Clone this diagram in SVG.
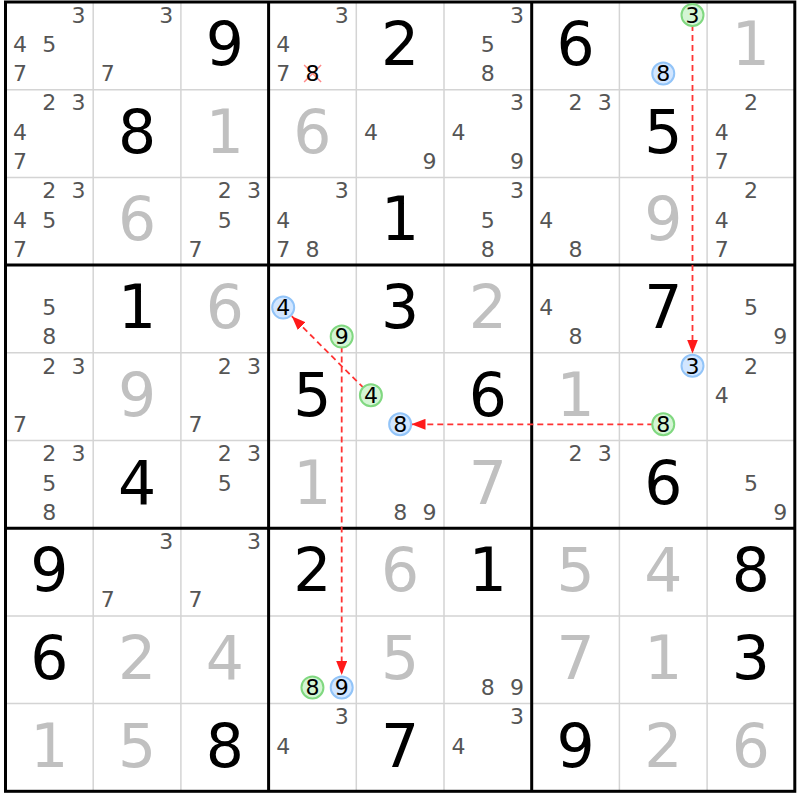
<svg xmlns="http://www.w3.org/2000/svg" width="800" height="800" viewBox="0 0 800 800">
<defs>
<style>
text{font-family:"DejaVu Sans",Verdana,sans-serif;text-anchor:middle}
.g{font-size:60px;fill:#000}
.s{font-size:60px;fill:#c0c0c0}
.c{font-size:22px;fill:#555}
.k{font-size:22px;fill:#000}
.thin{stroke:#d4d4d4;stroke-width:1.5}
.thick{stroke:#000;stroke-width:3;fill:none}
.bl{fill:#d2e6ff;stroke:#92c4f8;stroke-width:2}
.gr{fill:#d4f5d4;stroke:#80d880;stroke-width:2}
.x{stroke:#ff8a8a;stroke-width:1.5}
.link{stroke:#ff3333;stroke-width:1.8;stroke-dasharray:6 4;fill:none;marker-end:url(#ah)}
</style>
<marker id="ah" markerUnits="userSpaceOnUse" markerWidth="14" markerHeight="11" refX="14" refY="5.5" orient="auto"><path d="M0,0 L14,5.5 L0,11 z" fill="#ff1a1a"/></marker>
</defs>
<rect width="800" height="800" fill="#fff"/>
<g id="grid">
<path class="thin" d="M93.2,2V791.3M180.9,2V791.3M356.3,2V791.3M444,2V791.3M619.4,2V791.3M707.1,2V791.3M5.5,89.7H794.8M5.5,177.4H794.8M5.5,352.8H794.8M5.5,440.5H794.8M5.5,615.9H794.8M5.5,703.6H794.8"/>
<path class="thick" d="M268.6,2V791.3M531.7,2V791.3M5.5,265.1H794.8M5.5,528.2H794.8"/>
<rect class="thick" x="5.5" y="2" width="789.3" height="789.3"/>
</g>
<g id="connectors">
<path class="link" d="M692.5,15L692.5,353.5"/>
<path class="link" d="M663.3,424.3L411.5,424.3"/>
<path class="link" d="M370.9,395.3L291.8,316.2"/>
<path class="link" d="M341.7,336.6L341.7,675"/>
</g>
<g id="cells">
<!-- row 0 -->
<g id="r0c0" transform="translate(5.5,2)"><text class="c" x="73.1" y="20.8">3</text><text class="c" x="14.6" y="50.3">4</text><text class="c" x="43.85" y="50.3">5</text><text class="c" x="14.6" y="79.3">7</text></g>
<g id="r0c1" transform="translate(93.2,2)"><text class="c" x="73.1" y="20.8">3</text><text class="c" x="14.6" y="79.3">7</text></g>
<g id="r0c2" transform="translate(180.9,2)"><text class="g" x="43.85" y="63">9</text></g>
<g id="r0c3" transform="translate(268.6,2)"><text class="c" x="73.1" y="20.8">3</text><text class="c" x="14.6" y="50.3">4</text><text class="c" x="14.6" y="79.3">7</text><path class="x" d="M35.5,63L52.5,80M52.5,63L35.5,80"/><text class="k" x="43.85" y="79.3">8</text></g>
<g id="r0c4" transform="translate(356.3,2)"><text class="g" x="43.85" y="63">2</text></g>
<g id="r0c5" transform="translate(444,2)"><text class="c" x="73.1" y="20.8">3</text><text class="c" x="43.85" y="50.3">5</text><text class="c" x="43.85" y="79.3">8</text></g>
<g id="r0c6" transform="translate(531.7,2)"><text class="g" x="43.85" y="63">6</text></g>
<g id="r0c7" transform="translate(619.4,2)"><circle class="gr" cx="73.1" cy="13" r="11"/><text class="k" x="73.1" y="20.8">3</text><circle class="bl" cx="43.85" cy="71.5" r="11"/><text class="k" x="43.85" y="79.3">8</text></g>
<g id="r0c8" transform="translate(707.1,2)"><text class="s" x="43.85" y="63">1</text></g>
<!-- row 1 -->
<g id="r1c0" transform="translate(5.5,89.7)"><text class="c" x="43.85" y="20.8">2</text><text class="c" x="73.1" y="20.8">3</text><text class="c" x="14.6" y="50.3">4</text><text class="c" x="14.6" y="79.3">7</text></g>
<g id="r1c1" transform="translate(93.2,89.7)"><text class="g" x="43.85" y="63">8</text></g>
<g id="r1c2" transform="translate(180.9,89.7)"><text class="s" x="43.85" y="63">1</text></g>
<g id="r1c3" transform="translate(268.6,89.7)"><text class="s" x="43.85" y="63">6</text></g>
<g id="r1c4" transform="translate(356.3,89.7)"><text class="c" x="14.6" y="50.3">4</text><text class="c" x="73.1" y="79.3">9</text></g>
<g id="r1c5" transform="translate(444,89.7)"><text class="c" x="73.1" y="20.8">3</text><text class="c" x="14.6" y="50.3">4</text><text class="c" x="73.1" y="79.3">9</text></g>
<g id="r1c6" transform="translate(531.7,89.7)"><text class="c" x="43.85" y="20.8">2</text><text class="c" x="73.1" y="20.8">3</text></g>
<g id="r1c7" transform="translate(619.4,89.7)"><text class="g" x="43.85" y="63">5</text></g>
<g id="r1c8" transform="translate(707.1,89.7)"><text class="c" x="43.85" y="20.8">2</text><text class="c" x="14.6" y="50.3">4</text><text class="c" x="14.6" y="79.3">7</text></g>
<!-- row 2 -->
<g id="r2c0" transform="translate(5.5,177.4)"><text class="c" x="43.85" y="20.8">2</text><text class="c" x="73.1" y="20.8">3</text><text class="c" x="14.6" y="50.3">4</text><text class="c" x="43.85" y="50.3">5</text><text class="c" x="14.6" y="79.3">7</text></g>
<g id="r2c1" transform="translate(93.2,177.4)"><text class="s" x="43.85" y="63">6</text></g>
<g id="r2c2" transform="translate(180.9,177.4)"><text class="c" x="43.85" y="20.8">2</text><text class="c" x="73.1" y="20.8">3</text><text class="c" x="43.85" y="50.3">5</text><text class="c" x="14.6" y="79.3">7</text></g>
<g id="r2c3" transform="translate(268.6,177.4)"><text class="c" x="73.1" y="20.8">3</text><text class="c" x="14.6" y="50.3">4</text><text class="c" x="14.6" y="79.3">7</text><text class="c" x="43.85" y="79.3">8</text></g>
<g id="r2c4" transform="translate(356.3,177.4)"><text class="g" x="43.85" y="63">1</text></g>
<g id="r2c5" transform="translate(444,177.4)"><text class="c" x="73.1" y="20.8">3</text><text class="c" x="43.85" y="50.3">5</text><text class="c" x="43.85" y="79.3">8</text></g>
<g id="r2c6" transform="translate(531.7,177.4)"><text class="c" x="14.6" y="50.3">4</text><text class="c" x="43.85" y="79.3">8</text></g>
<g id="r2c7" transform="translate(619.4,177.4)"><text class="s" x="43.85" y="63">9</text></g>
<g id="r2c8" transform="translate(707.1,177.4)"><text class="c" x="43.85" y="20.8">2</text><text class="c" x="14.6" y="50.3">4</text><text class="c" x="14.6" y="79.3">7</text></g>
<!-- row 3 -->
<g id="r3c0" transform="translate(5.5,265.1)"><text class="c" x="43.85" y="50.3">5</text><text class="c" x="43.85" y="79.3">8</text></g>
<g id="r3c1" transform="translate(93.2,265.1)"><text class="g" x="43.85" y="63">1</text></g>
<g id="r3c2" transform="translate(180.9,265.1)"><text class="s" x="43.85" y="63">6</text></g>
<g id="r3c3" transform="translate(268.6,265.1)"><circle class="bl" cx="14.6" cy="42.5" r="11"/><text class="k" x="14.6" y="50.3">4</text><circle class="gr" cx="73.1" cy="71.5" r="11"/><text class="k" x="73.1" y="79.3">9</text></g>
<g id="r3c4" transform="translate(356.3,265.1)"><text class="g" x="43.85" y="63">3</text></g>
<g id="r3c5" transform="translate(444,265.1)"><text class="s" x="43.85" y="63">2</text></g>
<g id="r3c6" transform="translate(531.7,265.1)"><text class="c" x="14.6" y="50.3">4</text><text class="c" x="43.85" y="79.3">8</text></g>
<g id="r3c7" transform="translate(619.4,265.1)"><text class="g" x="43.85" y="63">7</text></g>
<g id="r3c8" transform="translate(707.1,265.1)"><text class="c" x="43.85" y="50.3">5</text><text class="c" x="73.1" y="79.3">9</text></g>
<!-- row 4 -->
<g id="r4c0" transform="translate(5.5,352.8)"><text class="c" x="43.85" y="20.8">2</text><text class="c" x="73.1" y="20.8">3</text><text class="c" x="14.6" y="79.3">7</text></g>
<g id="r4c1" transform="translate(93.2,352.8)"><text class="s" x="43.85" y="63">9</text></g>
<g id="r4c2" transform="translate(180.9,352.8)"><text class="c" x="43.85" y="20.8">2</text><text class="c" x="73.1" y="20.8">3</text><text class="c" x="14.6" y="79.3">7</text></g>
<g id="r4c3" transform="translate(268.6,352.8)"><text class="g" x="43.85" y="63">5</text></g>
<g id="r4c4" transform="translate(356.3,352.8)"><circle class="gr" cx="14.6" cy="42.5" r="11"/><text class="k" x="14.6" y="50.3">4</text><circle class="bl" cx="43.85" cy="71.5" r="11"/><text class="k" x="43.85" y="79.3">8</text></g>
<g id="r4c5" transform="translate(444,352.8)"><text class="g" x="43.85" y="63">6</text></g>
<g id="r4c6" transform="translate(531.7,352.8)"><text class="s" x="43.85" y="63">1</text></g>
<g id="r4c7" transform="translate(619.4,352.8)"><circle class="bl" cx="73.1" cy="13" r="11"/><text class="k" x="73.1" y="20.8">3</text><circle class="gr" cx="43.85" cy="71.5" r="11"/><text class="k" x="43.85" y="79.3">8</text></g>
<g id="r4c8" transform="translate(707.1,352.8)"><text class="c" x="43.85" y="20.8">2</text><text class="c" x="14.6" y="50.3">4</text></g>
<!-- row 5 -->
<g id="r5c0" transform="translate(5.5,440.5)"><text class="c" x="43.85" y="20.8">2</text><text class="c" x="73.1" y="20.8">3</text><text class="c" x="43.85" y="50.3">5</text><text class="c" x="43.85" y="79.3">8</text></g>
<g id="r5c1" transform="translate(93.2,440.5)"><text class="g" x="43.85" y="63">4</text></g>
<g id="r5c2" transform="translate(180.9,440.5)"><text class="c" x="43.85" y="20.8">2</text><text class="c" x="73.1" y="20.8">3</text><text class="c" x="43.85" y="50.3">5</text></g>
<g id="r5c3" transform="translate(268.6,440.5)"><text class="s" x="43.85" y="63">1</text></g>
<g id="r5c4" transform="translate(356.3,440.5)"><text class="c" x="43.85" y="79.3">8</text><text class="c" x="73.1" y="79.3">9</text></g>
<g id="r5c5" transform="translate(444,440.5)"><text class="s" x="43.85" y="63">7</text></g>
<g id="r5c6" transform="translate(531.7,440.5)"><text class="c" x="43.85" y="20.8">2</text><text class="c" x="73.1" y="20.8">3</text></g>
<g id="r5c7" transform="translate(619.4,440.5)"><text class="g" x="43.85" y="63">6</text></g>
<g id="r5c8" transform="translate(707.1,440.5)"><text class="c" x="43.85" y="50.3">5</text><text class="c" x="73.1" y="79.3">9</text></g>
<!-- row 6 -->
<g id="r6c0" transform="translate(5.5,528.2)"><text class="g" x="43.85" y="63">9</text></g>
<g id="r6c1" transform="translate(93.2,528.2)"><text class="c" x="73.1" y="20.8">3</text><text class="c" x="14.6" y="79.3">7</text></g>
<g id="r6c2" transform="translate(180.9,528.2)"><text class="c" x="73.1" y="20.8">3</text><text class="c" x="14.6" y="79.3">7</text></g>
<g id="r6c3" transform="translate(268.6,528.2)"><text class="g" x="43.85" y="63">2</text></g>
<g id="r6c4" transform="translate(356.3,528.2)"><text class="s" x="43.85" y="63">6</text></g>
<g id="r6c5" transform="translate(444,528.2)"><text class="g" x="43.85" y="63">1</text></g>
<g id="r6c6" transform="translate(531.7,528.2)"><text class="s" x="43.85" y="63">5</text></g>
<g id="r6c7" transform="translate(619.4,528.2)"><text class="s" x="43.85" y="63">4</text></g>
<g id="r6c8" transform="translate(707.1,528.2)"><text class="g" x="43.85" y="63">8</text></g>
<!-- row 7 -->
<g id="r7c0" transform="translate(5.5,615.9)"><text class="g" x="43.85" y="63">6</text></g>
<g id="r7c1" transform="translate(93.2,615.9)"><text class="s" x="43.85" y="63">2</text></g>
<g id="r7c2" transform="translate(180.9,615.9)"><text class="s" x="43.85" y="63">4</text></g>
<g id="r7c3" transform="translate(268.6,615.9)"><circle class="gr" cx="43.85" cy="71.5" r="11"/><text class="k" x="43.85" y="79.3">8</text><circle class="bl" cx="73.1" cy="71.5" r="11"/><text class="k" x="73.1" y="79.3">9</text></g>
<g id="r7c4" transform="translate(356.3,615.9)"><text class="s" x="43.85" y="63">5</text></g>
<g id="r7c5" transform="translate(444,615.9)"><text class="c" x="43.85" y="79.3">8</text><text class="c" x="73.1" y="79.3">9</text></g>
<g id="r7c6" transform="translate(531.7,615.9)"><text class="s" x="43.85" y="63">7</text></g>
<g id="r7c7" transform="translate(619.4,615.9)"><text class="s" x="43.85" y="63">1</text></g>
<g id="r7c8" transform="translate(707.1,615.9)"><text class="g" x="43.85" y="63">3</text></g>
<!-- row 8 -->
<g id="r8c0" transform="translate(5.5,703.6)"><text class="s" x="43.85" y="63">1</text></g>
<g id="r8c1" transform="translate(93.2,703.6)"><text class="s" x="43.85" y="63">5</text></g>
<g id="r8c2" transform="translate(180.9,703.6)"><text class="g" x="43.85" y="63">8</text></g>
<g id="r8c3" transform="translate(268.6,703.6)"><text class="c" x="73.1" y="20.8">3</text><text class="c" x="14.6" y="50.3">4</text></g>
<g id="r8c4" transform="translate(356.3,703.6)"><text class="g" x="43.85" y="63">7</text></g>
<g id="r8c5" transform="translate(444,703.6)"><text class="c" x="73.1" y="20.8">3</text><text class="c" x="14.6" y="50.3">4</text></g>
<g id="r8c6" transform="translate(531.7,703.6)"><text class="g" x="43.85" y="63">9</text></g>
<g id="r8c7" transform="translate(619.4,703.6)"><text class="s" x="43.85" y="63">2</text></g>
<g id="r8c8" transform="translate(707.1,703.6)"><text class="s" x="43.85" y="63">6</text></g>
</g>
</svg>
